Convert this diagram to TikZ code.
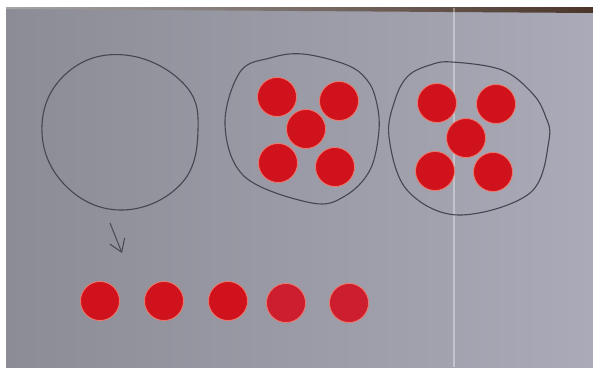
\documentclass[tikz,border=0pt]{standalone}
\usetikzlibrary{arrows.meta}

\definecolor{paperdark}{HTML}{8C8C96}
\definecolor{papermid}{HTML}{A2A2AD}
\definecolor{paperlight}{HTML}{AAAAB8}
\definecolor{pencil}{HTML}{45464F}
\definecolor{chipred}{HTML}{D0121D}
\definecolor{chiprim}{HTML}{F07A6C}
\definecolor{chipfaded}{HTML}{CC1E2E}
\definecolor{tableedge}{HTML}{4B3529}

\tikzset{
  counter/.style={circle, fill=chipred, draw=chiprim, line width=0.8pt, minimum size=39pt, inner sep=0pt},
  fadedcounter/.style={counter, fill=chipfaded},
  setline/.style={draw=pencil, line width=1.1pt},
}

\begin{document}
\begin{tikzpicture}[x=1pt,y=-1pt]

\useasboundingbox (0,0) rectangle (593,367);

%\draw(0,0) grid[step=50] (593,367);

% paper and table edge
\fill[white] (0,0) rectangle (593,367);
\shade[left color=paperdark, middle color=papermid, right color=paperlight] (6,8) rectangle (593,367);
\shade[left color=gray!70, right color=tableedge] (6,7) -- (593,7) -- (593,13) -- (6,9) -- cycle;
\draw[white, opacity=0.35, line width=1.5pt] (454,8) -- (454,367);


% first set (empty)
\draw[setline] plot[smooth cycle, tension=0.7] coordinates {(125,55) (183,83) (198,130) (180,185) (120,210) (63,183) (42,125) (68,72)};


% second set
\draw[setline] plot[smooth cycle, tension=0.6] coordinates {(303,54) (347,65) (367,80) (376,100) (379,130) (370,170) (345,196) (312,203) (245,177) (225,125) (240,72) (270,58)};

\node[counter] (b1) at (277,97) {};
\node[counter] (b2) at (339,101) {};
\node[counter] (b3) at (306,129) {};
\node[counter] (b4) at (278,163) {};
\node[counter] (b5) at (335,167) {};


% third set
\draw[setline] plot[smooth cycle, tension=0.6] coordinates {(452,62) (502,70) (532,93) (545,115) (549,140) (530,193) (458,215) (407,190) (389,137) (395,100) (408,76) (430,65)};

\node[counter] (c1) at (437,103) {};
\node[counter] (c2) at (496,104) {};
\node[counter] (c3) at (466,138) {};
\node[counter] (c4) at (435,171) {};
\node[counter] (c5) at (493,172) {};


% arrow down to the row
\coordinate (arrtail) at (110,223);
\coordinate (arrtip) at (122,253);
\draw[pencil, line width=1pt, -{Straight Barb[length=12pt,width=16pt]}] (arrtail) -- (arrtip);


% row of loose counters
\node[counter] (r1) at (100,301) {};
\node[counter] (r2) at (164,301) {};
\node[counter] (r3) at (228,301) {};
\node[fadedcounter] (r4) at (286,303) {};
\node[fadedcounter] (r5) at (349,303) {};

\end{tikzpicture}
\end{document}
